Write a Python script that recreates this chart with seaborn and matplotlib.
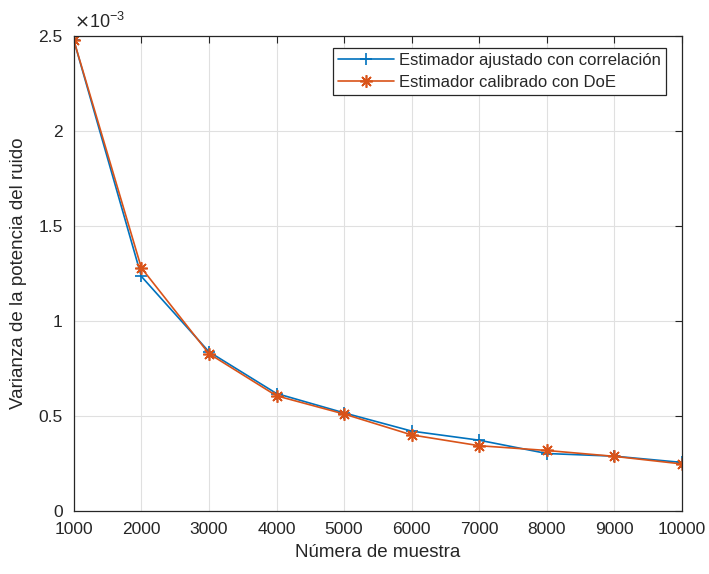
import matplotlib
matplotlib.use("Agg")
import matplotlib.pyplot as plt
import seaborn as sns
import pandas as pd

# Noise-power variance versus number of samples for two estimators
muestras = [1000, 2000, 3000, 4000, 5000, 6000, 7000, 8000, 9000, 10000]
var_correlacion = [2.48e-3, 1.235e-3, 0.838e-3, 0.618e-3, 0.516e-3, 0.420e-3,
                   0.372e-3, 0.302e-3, 0.288e-3, 0.255e-3]
var_doe = [2.48e-3, 1.280e-3, 0.828e-3, 0.606e-3, 0.510e-3, 0.400e-3,
           0.343e-3, 0.318e-3, 0.287e-3, 0.247e-3]
nombres = ["Estimador ajustado con correlación", "Estimador calibrado con DoE"]
yticks = [0, 0.5, 1, 1.5, 2, 2.5]
escala = 1e-3

sns.set_style("white")
plt.rcParams["font.family"] = ["Liberation Sans", "DejaVu Sans"]

df = pd.concat([
    pd.DataFrame({"n": muestras, "v": [v / escala for v in var_correlacion], "serie": nombres[0]}),
    pd.DataFrame({"n": muestras, "v": [v / escala for v in var_doe], "serie": nombres[1]}),
])

fig = plt.figure(figsize=(7.09, 5.74), dpi=100)
ax = fig.add_axes([0.104, 0.110, 0.858, 0.827])

colores = {nombres[0]: "#0072BD", nombres[1]: "#D95319"}
marcas = {nombres[0]: "+", nombres[1]: (8, 2, 0)}
tamanos = {nombres[0]: 9, nombres[1]: 9}
for nombre in nombres:
    sub = df[df["serie"] == nombre]
    sns.lineplot(data=sub, x="n", y="v", ax=ax, color=colores[nombre],
                 marker=marcas[nombre], markersize=tamanos[nombre],
                 markeredgewidth=1.2, markeredgecolor=colores[nombre],
                 linewidth=1.2, label=nombre)

ax.set_xlim(1000, 10000)
ax.set_ylim(0, 2.5)
ax.set_xticks(muestras)
ax.set_yticks(yticks)
ax.set_yticklabels([f"{t:g}" for t in yticks])
ax.grid(True, color="#e0e0e0", linewidth=0.8)
ax.set_axisbelow(True)

axis_col = "#262626"
for s in ax.spines.values():
    s.set_color(axis_col)
    s.set_linewidth(0.9)
ax.tick_params(direction="in", length=5, width=0.8, colors=axis_col,
               labelcolor=axis_col, labelsize=12.5, top=True, right=True)
ax.tick_params(axis="x", pad=8)
ax.tick_params(axis="y", pad=8)

ax.set_xlabel("Númera de muestra", fontsize=13.5, color=axis_col, labelpad=5)
ax.set_ylabel("Varianza de la potencia del ruido", fontsize=13.5,
              color=axis_col, labelpad=8)
ax.text(0.0, 1.008, r"$\times\mathregular{10^{-3}}$", transform=ax.transAxes,
        fontsize=13, color=axis_col, ha="left", va="bottom")

leg = ax.legend(loc="upper right", bbox_to_anchor=(0.9737, 0.9747), fontsize=12,
                frameon=True, fancybox=False, framealpha=1, edgecolor=axis_col,
                borderpad=0.3, labelspacing=0.4, handlelength=3.35,
                handletextpad=0.3, borderaxespad=0.0)
leg.get_frame().set_linewidth(0.9)

fig.savefig("out.png", dpi=100)
